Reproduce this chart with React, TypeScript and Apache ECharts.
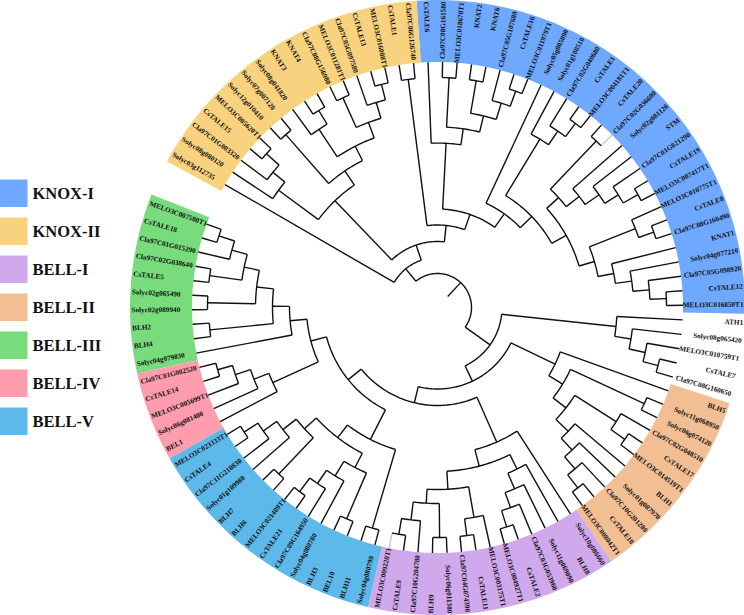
import React, { useEffect, useRef } from "react";
import * as echarts from "echarts";

// Leaves in clockwise order, each list by clade.
const knoxII = ["Solyc03g112735","Solyc08g080120","Cla97C01G003320","CsTALE15","MELO3C005620T1","Solyc12g010410","Solyc07g007120","Solyc08g041820","KNAT3","KNAT4","Cla97C08G156980","MELO3C011281T1","Cla97C05G097580","CsTALE13","MELO3C016088T1","CsTALE1","Cla97C06G126740"];
const knoxI = ["CsTALE6","Cla97C08G161580","MELO3C018678T1","KNAT2","KNAT6","Cla97C05G107680","CsTALE16","MELO3C011979T1","Solyc05g005090","Solyc01g100510","Cla97C02G040680","CsTALE1","MELO3C004181T1","CsTALE20","Cla97C02G036600","Solyc02g081120","STM","Cla97C01G021290","CsTALE19","MELO3C007417T1","MELO3C010775T1","CsTALE8","Cla97C08G160490","KNAT1","Solyc04g077210","Cla97C05G098920","CsTALE12","MELO3C016850T1"];
const outgroup = ["ATH1","Solyc08g065420","MELO3C010759T1","CsTALE7","Cla97C08G160650"];
const bellII = ["BLH5","Solyc11g068950","Solyc06g074120","Cla97C02G048510","CsTALE17","MELO3C014519T1","BLH1","Solyc01g087970","Cla97C10G201280","CsTALE10","MELO3C008042T1"];
const bellI = ["Solyc10g086660","BLH8","Solyc11g069090","Cla97C03G053960","CsTALE2","MELO3C004927T1","MELO3C003175T1","CsTALE11","Cla97C04G074390","Solyc06g011380","BLH9","Cla97C10G204780","CsTALE9","MELO3C009220T1"];
const bellV = ["Solyc04g080790","BLH11","BEL10","BLH3","Solyc04g080780","Cla97C09G164950","CsTALE21","MELO3C021409T1","BLH6","BLH7","Solyc01g109980","Cla97C11G210830","CsTALE4","MELO3C023333T1"];
const bellIV = ["BEL1","Solyc06g081400","MELO3C005699T1","CsTALE14","Cla97C01G002520"];
const bellIII = ["Solyc04g079830","BLH4","BLH2","Solyc02g089940","Solyc02g065490","CsTALE5","Cla97C02G038640","Cla97C01G015290","CsTALE18","MELO3C007500T1"];

const leafNames = [...knoxII, ...knoxI, ...outgroup, ...bellII, ...bellI, ...bellV, ...bellIV, ...bellIII];
const paleLeaves = ["Cla97C02G036600", "MELO3C009220T1"];

const legendOrder = ["KNOX-I", "KNOX-II", "BELL-I", "BELL-II", "BELL-III", "BELL-IV", "BELL-V"];
const cladeLeaves = [knoxI, knoxII, bellI, bellII, bellIII, bellIV, bellV];
const cladeColors = ["#6FA8FF", "#F8D27E", "#D0A8EC", "#F2BE94", "#78DB7C", "#FF9DAE", "#5DB9E9"];

// Angles in degrees, clockwise from 3 o'clock; distances in the radius axis' units.
const firstLeafAngle = 210.06;
const leafStep = 3.396;
const tipRadius = 245.5;
const ringOuter = 307.5;
const labelRadius = 306;
const rootStubStart = 15;

// Tree: t(radius of the node, ...children); 0 is the next leaf in order.
type Node = { r: number; kids: (Node | 0)[] };
const t = (r: number, ...kids: (Node | 0)[]): Node => ({ r, kids });
const p = (r: number) => t(r, 0, 0);

const knoxClade = t(50, 0,
  t(66,
    t(148,
      t(197.5, 0, t(213, 0, p(230))),
      t(165, p(230),
        t(181,
          t(214, 0, p(230)),
          t(197.5, p(230), t(214, 0, p(230)))))),
    t(82.5, p(230),
      t(98.5,
        t(164.4, 0,
          t(180.5, p(230),
            t(197, p(230), t(214, 0, p(230))))),
        t(115, 0,
          t(131,
            t(197, 0, t(213.5, 0, p(230))),
            t(147.5,
              t(163.5, p(230),
                t(180, 0, t(197, 0, t(213, 0, p(230))))),
              t(163.5,
                t(213, 0, p(229)),
                t(179.5, 0, t(196, 0, t(212.5, 0, p(229))))))))))));

const bellClade = t(64.5,
  t(179.5, 0, t(196, 0, t(212.5, 0, p(228)))),
  t(81.5,
    t(130.5, 0,
      t(146.7, p(228),
        t(163,
          t(212, 0, p(229)),
          t(180, 0, t(196, 0, t(212, 0, p(228.5))))))),
    t(98,
      t(147, 0,
        t(164,
          t(180, 0, t(197, 0, t(213, 0, p(230)))),
          t(182,
            t(213, 0, p(230)),
            t(196, p(230), t(214, 0, p(230)))))),
      t(114.8,
        t(148, p(230),
          t(164,
            t(180, p(230), t(197, 0, t(213, 0, p(230)))),
            t(180, p(230), t(197, 0, t(213.5, 0, p(230)))))),
        t(131,
          t(181, 0, t(197, 0, t(213, 0, p(228.5)))),
          t(148, 0,
            t(165, p(228.7),
              t(182, p(230),
                t(197.5, p(230), t(213.5, 0, p(230)))))))))));

const treeRoot = t(34, knoxClade, bellClade);

const leafAngle = (i: number) => firstLeafAngle + i * leafStep;

// rows: [parent radius, radius, angle, arc start, arc end, pale flag]
function buildRows() {
  const rows: number[][] = [];
  let next = 0;
  const walk = (node: Node | 0, parentR: number): number => {
    if (node === 0) {
      const a = leafAngle(next);
      rows.push([parentR, tipRadius, a, a, a, paleLeaves.includes(leafNames[next]) ? 1 : 0]);
      next += 1;
      return a;
    }
    const angles = node.kids.map((k) => walk(k, node.r));
    const a0 = angles[0];
    const a1 = angles[angles.length - 1];
    const a = (a0 + a1) / 2;
    rows.push([parentR, node.r, a, a0, a1, 0]);
    return a;
  };
  walk(treeRoot, rootStubStart);
  return rows;
}

function arcPoints(api: any, r: number, a0: number, a1: number) {
  const n = Math.max(1, Math.ceil(Math.abs(a1 - a0)));
  const pts: number[][] = [];
  for (let i = 0; i <= n; i++) pts.push(api.coord([r, a0 + ((a1 - a0) * i) / n]));
  return pts;
}

export default function App() {
  const ref = useRef<HTMLDivElement>(null);
  useEffect(() => {
    if (!ref.current) return;
    const chart = echarts.init(ref.current, undefined, { renderer: "svg" });

    const ringSeries = legendOrder.map((name, c) => {
      const start = leafNames.indexOf(cladeLeaves[c][0]);
      const end = start + cladeLeaves[c].length - 1;
      return {
        type: "custom",
        name,
        coordinateSystem: "polar",
        silent: true,
        clip: false,
        itemStyle: { color: cladeColors[c] },
        data: [[leafAngle(start) - leafStep / 2, leafAngle(end) + leafStep / 2]],
        renderItem: (_: any, api: any) => {
          const a0 = api.value(0);
          const a1 = api.value(1);
          const points = [
            ...arcPoints(api, tipRadius, a0, a1),
            ...arcPoints(api, ringOuter, a1, a0),
          ];
          return { type: "polygon", shape: { points }, style: { fill: cladeColors[c], stroke: null } };
        },
      };
    });

    const treeSeries = {
      type: "custom",
      coordinateSystem: "polar",
      silent: true,
      clip: false,
      data: buildRows(),
      renderItem: (_: any, api: any) => {
        const [pr, r, a, a0, a1, pale] = [0, 1, 2, 3, 4, 5].map((d) => api.value(d));
        const stroke = pale ? "#c9c9c9" : "#111111";
        const style = { fill: "none", stroke, lineWidth: 1.4, lineJoin: "miter" };
        const children: any[] = [
          { type: "polyline", shape: { points: [api.coord([pr, a]), api.coord([r, a])] }, style },
        ];
        if (a1 > a0) {
          children.push({ type: "polyline", shape: { points: arcPoints(api, r, a0, a1) }, style });
        }
        return { type: "group", children };
      },
    };

    const labelSeries = {
      type: "custom",
      coordinateSystem: "polar",
      silent: true,
      clip: false,
      data: leafNames.map((name, i) => ({ name, value: [labelRadius, leafAngle(i)] })),
      renderItem: (params: any, api: any) => {
        const angle = api.value(1) % 360;
        const right = Math.cos((angle * Math.PI) / 180) > 0;
        const [x, y] = api.coord([api.value(0), angle]);
        const rad = (angle * Math.PI) / 180;
        return {
          type: "text",
          x,
          y,
          rotation: right ? -rad : Math.PI - rad,
          style: {
            text: leafNames[params.dataIndex],
            textAlign: right ? "right" : "left",
            textVerticalAlign: "middle",
            font: 'bold 7.2px "Liberation Serif"',
            fill: "#111111",
          },
        };
      },
    };

    chart.setOption({
      animation: false,
      backgroundColor: "#ffffff",
      polar: { center: [437.5, 307.5], radius: [0, ringOuter] },
      angleAxis: { type: "value", min: 0, max: 360, startAngle: 0, clockwise: true, show: false },
      radiusAxis: { type: "value", min: 0, max: ringOuter, show: false },
      legend: {
        data: legendOrder.map((name) => ({ name, icon: "rect" })),
        orient: "vertical",
        left: 0,
        top: 179.5,
        padding: 0,
        itemWidth: 27.5,
        itemHeight: 27.5,
        itemGap: 10.5,
        selectedMode: false,
        textStyle: { fontFamily: "Liberation Serif", fontWeight: "bold", fontSize: 16.5, color: "#111111" },
      },
      series: [...ringSeries, treeSeries, labelSeries],
    });
    return () => chart.dispose();
  }, []);
  return <div ref={ref} style={{ position: "absolute", left: 0, top: 0, width: 744, height: 615 }} />;
}
